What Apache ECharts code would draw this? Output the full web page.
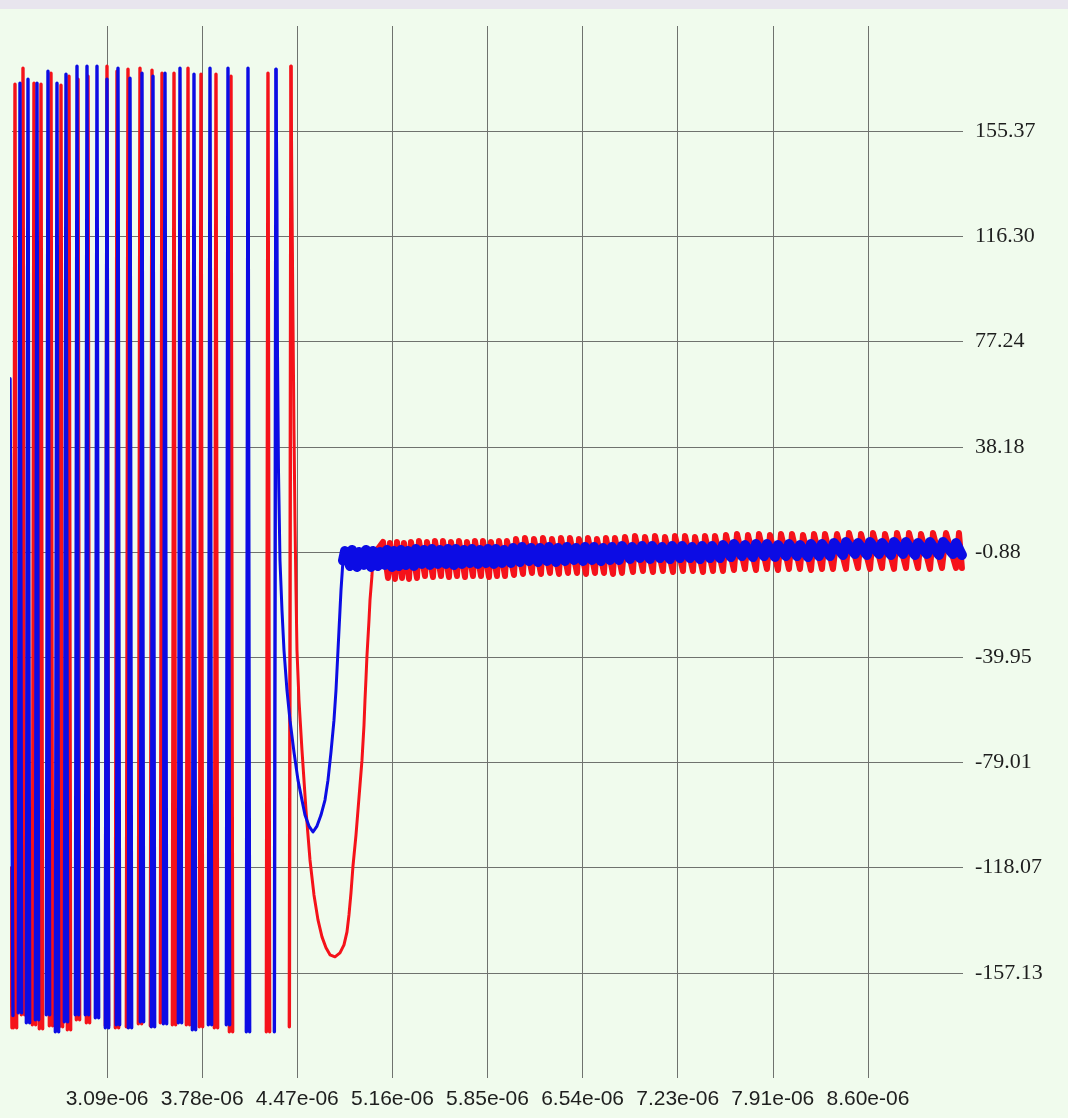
<!DOCTYPE html>
<html><head><meta charset="utf-8">
<script src="https://cdn.jsdelivr.net/npm/echarts@6/dist/echarts.min.js"></script>
<style>html,body{margin:0;padding:0;background:#f0fbed;}#chart{width:1068px;height:1118px;}</style>
</head><body><div id="chart"></div>
<script>
// ---- tick labels ----
const xTickLabels = ['3.09e-06','3.78e-06','4.47e-06','5.16e-06','5.85e-06','6.54e-06','7.23e-06','7.91e-06','8.60e-06'];
const yTickLabels = ['-157.13','-118.07','-79.01','-39.95','-0.88','38.18','77.24','116.30','155.37'];

// ---- data (x in microseconds) ----
// red series
const redStart = [[2.3867,-118.21],[2.4012,-177.52]];
const redBarX = [2.4229,2.4809,2.5605,2.6112,2.6836,2.7561,2.8140,2.8792,2.9516,3.0892,3.1616,3.2413,3.3282,3.4151,3.4876,3.5745,3.6759,3.7700,3.8786,3.9873,4.2552,4.4218];
const redBarTop = [172.79,178.72,173.16,172.79,176.87,172.42,175.76,174.65,175.76,179.46,177.61,178.35,178.72,177.98,176.87,176.87,178.72,176.50,176.50,175.76,176.87,179.46];
const redBarBottom = [-177.52,-172.70,-176.41,-177.89,-176.78,-177.15,-178.26,-174.55,-175.67,-176.78,-177.52,-177.15,-176.04,-176.78,-175.67,-176.41,-176.41,-177.15,-177.52,-179.00,-179.00,-177.15];
const redDip = [[4.4290,129.42],[4.4363,84.94],[4.4435,44.16],[4.4508,10.80],[4.4580,-15.15],[4.4652,-37.40],[4.4797,-55.93],[4.5014,-74.47],[4.5304,-96.71],[4.5594,-115.24],[4.5883,-128.22],[4.6173,-137.48],[4.6463,-143.79],[4.6753,-147.86],[4.7042,-150.46],[4.7404,-151.20],[4.7766,-149.72],[4.8056,-146.75],[4.8273,-141.93],[4.8418,-135.63],[4.8563,-127.48],[4.8708,-117.47],[4.8925,-105.98],[4.9070,-96.71],[4.9215,-87.44],[4.9360,-78.17],[4.9505,-65.20],[4.9577,-55.93],[4.9650,-47.77],[4.9722,-39.24],[4.9867,-26.27],[4.9939,-18.86],[5.0084,-9.59],[5.0157,-2.17]];
const redBandTopX = [5.0881,5.1388,5.1895,5.2402,5.2909, 5.3488,5.4067,5.4647,5.5226,5.5806,5.6385,5.6964,5.7544,5.8123,5.8703,5.9282,5.9862, 6.0514,6.1165,6.1817,6.2469,6.3121,6.3773,6.4424,6.5076,6.5728,6.6380,6.7032,6.7683, 6.8408,6.9132,6.9856,7.0580,7.1305,7.2029,7.2753,7.3477,7.4202,7.4926, 7.5722,7.6519,7.7316,7.8112,7.8909,7.9706,8.0502,8.1299,8.2096,8.2892, 8.3761,8.4630,8.5500,8.6369,8.7238,8.8107,8.8976,8.9845,9.0714,9.1656,9.2597];
const redBandTop = [2.83,2.46,2.83,2.46,2.83, 3.20,2.83,3.20,3.20,2.83,3.20,2.83,3.20,3.20,2.83,3.20,3.20, 3.94,4.31,3.94,4.31,3.94,4.31,4.31,3.94,4.31,3.94,4.31,4.31, 4.68,5.05,4.68,5.05,4.68,5.05,5.05,4.68,5.05,5.05, 5.42,5.79,5.42,5.79,5.42,5.79,5.79,5.42,5.79,5.79, 5.79,6.16,5.79,6.16,5.79,6.16,6.16,5.79,6.16,6.16,6.16];
const redBandBotX = [5.1243,5.1750,5.2257,5.2764,5.3343, 5.3923,5.4502,5.5082,5.5661,5.6241,5.6820,5.7399,5.7979,5.8558,5.9138,5.9717,6.0369, 6.1021,6.1672,6.2324,6.2976,6.3628,6.4280,6.4931,6.5583,6.6235,6.6887,6.7539,6.8190, 6.8987,6.9711,7.0435,7.1159,7.1884,7.2608,7.3332,7.4056,7.4781,7.5505, 7.6301,7.7098,7.7895,7.8691,7.9488,8.0285,8.1081,8.1878,8.2675,8.3471, 8.4413,8.5282,8.6152,8.7021,8.7890,8.8759,8.9628,9.0497,9.1366,9.2380,9.2810];
const redBandBot = [-10.52,-10.89,-10.52,-10.89,-10.52, -9.78,-10.15,-9.78,-10.15,-9.78,-10.15,-9.78,-9.78,-10.15,-9.78,-9.78,-9.41, -9.04,-8.67,-9.04,-8.67,-9.04,-8.67,-8.67,-9.04,-8.67,-8.67,-9.04,-8.67, -8.30,-7.93,-8.30,-7.93,-8.30,-7.93,-7.93,-8.30,-7.93,-7.93, -7.55,-7.18,-7.55,-7.18,-7.55,-7.18,-7.18,-7.55,-7.18,-7.18, -7.18,-6.81,-7.18,-6.81,-7.18,-6.81,-6.81,-7.18,-6.81,-6.81,-6.81];

// blue series
const blueStart = [[2.3867,63.43],[2.4084,-173.00]];
const blueBarX = [2.4591,2.5171,2.5823,2.6619,2.7271,2.7923,2.8720,2.9444,3.0168,3.0892,3.1689,3.2558,3.3427,3.4224,3.5093,3.6179,3.7193,3.8352,3.9655,4.1104,4.3132];
const blueBarTop = [173.16,174.65,173.16,177.61,173.16,176.50,179.46,179.46,179.46,174.65,178.72,175.02,176.87,175.76,176.87,178.72,176.50,178.72,178.72,178.72,178.35];
const blueBarBottom = [-171.96,-175.67,-174.55,-172.70,-179.00,-175.30,-172.70,-172.70,-173.81,-177.52,-176.41,-177.52,-175.30,-177.15,-176.04,-175.67,-178.26,-176.41,-176.41,-179.00,-179.00];
const blueDip = [[4.3204,129.42],[4.3240,73.81],[4.3313,29.33],[4.3421,-4.03],[4.3566,-22.57],[4.3711,-37.40],[4.3928,-52.22],[4.4145,-63.34],[4.4435,-75.21],[4.4725,-85.59],[4.5014,-93.00],[4.5232,-98.56],[4.5521,-102.64],[4.5811,-104.86],[4.6101,-102.64],[4.6390,-98.56],[4.6680,-93.00],[4.6897,-85.59],[4.7115,-75.21],[4.7332,-63.34],[4.7477,-52.22],[4.7622,-37.40],[4.7766,-22.57],[4.7839,-15.15],[4.7984,-4.03]];
const blueBandTopX = [4.8129,4.8636,4.9143,4.9650,5.0157,5.0664,5.1171,5.1678,5.2185,5.2692, 5.3271,5.3850,5.4430,5.5009,5.5589,5.6168,5.6747,5.7327,5.7906,5.8486,5.9065,5.9645, 6.0297,6.0948,6.1600,6.2252,6.2904,6.3556,6.4207,6.4859,6.5511,6.6163,6.6815,6.7466, 6.8191,6.8915,6.9639,7.0363,7.1088,7.1812,7.2536,7.3260,7.3985,7.4709, 7.5505,7.6302,7.7099,7.7895,7.8692,7.9489,8.0285,8.1082,8.1879,8.2675, 8.3544,8.4413,8.5283,8.6152,8.7021,8.7890,8.8759,8.9628,9.0497,9.1439,9.2380];
const blueBandTop = [-0.52,-0.15,-0.89,-0.15,-0.52,-0.89,-0.15,-0.52,-0.15,-0.52, 0.23,-0.15,0.23,-0.15,0.23,0.23,-0.15,0.23,-0.15,0.23,0.23,-0.15, 0.60,0.97,0.60,0.60,0.97,0.60,0.97,0.60,0.97,0.97,0.60,0.97, 1.34,0.97,1.34,1.34,0.97,1.34,1.34,0.97,1.34,1.34, 1.71,2.08,1.71,2.08,2.08,1.71,2.08,1.71,2.08,2.08, 2.45,2.82,2.45,2.82,2.45,2.82,2.82,2.45,2.82,2.82,2.45];
const blueBandBotX = [4.8491,4.8998,4.9505,5.0012,5.0519,5.1026,5.1533,5.2040,5.2547,5.3126, 5.3706,5.4285,5.4865,5.5444,5.6024,5.6603,5.7182,5.7762,5.8341,5.8921,5.9500,6.0152, 6.0804,6.1455,6.2107,6.2759,6.3411,6.4063,6.4714,6.5366,6.6018,6.6670,6.7322,6.7973, 6.8770,6.9494,7.0218,7.0942,7.1667,7.2391,7.3115,7.3839,7.4564,7.5288, 7.6084,7.6881,7.7678,7.8474,7.9271,8.0068,8.0864,8.1661,8.2458,8.3254, 8.4196,8.5065,8.5935,8.6804,8.7673,8.8542,8.9411,9.0280,9.1149,9.2163,9.2810];
const blueBandBot = [-6.06,-6.43,-5.69,-6.43,-6.06,-5.69,-6.43,-6.06,-5.69,-6.06, -5.32,-5.69,-5.32,-5.32,-5.69,-5.32,-4.95,-5.32,-4.95,-5.32,-4.95,-4.95, -4.58,-4.21,-4.58,-4.21,-4.58,-4.21,-3.84,-4.21,-3.84,-4.21,-3.84,-3.84, -3.47,-3.10,-3.47,-3.10,-3.47,-3.10,-3.10,-3.47,-3.10,-3.10, -2.73,-2.36,-2.73,-2.36,-2.73,-2.36,-2.36,-2.73,-2.36,-2.36, -1.99,-1.61,-1.99,-1.61,-1.99,-1.61,-1.99,-1.61,-1.99,-1.61,-1.99];

// ---- build ----
const BAR_HALF = 0.012; // half width of one up/down swing, microseconds
function buildBars(start, barX, barTop, barBot) {
  const d = start.map(p => p.slice());
  d.push([start[start.length - 1][0], null]);
  const n = barX.length;
  for (let i = 0; i < n; i++) {
    d.push([barX[i] - BAR_HALF, barBot[i]]);
    d.push([barX[i], barTop[i]]);
    if (i < n - 1) {
      d.push([barX[i] + BAR_HALF, barBot[i]]);
      d.push([barX[i] + BAR_HALF, null]);
    }
  }
  return d;
}
function buildDip(barX, barTop, dip) {
  const n = barX.length;
  return [[barX[n - 1], barTop[n - 1]]].concat(dip.map(p => p.slice()));
}
function buildBand(dip, tX, t, bX, b) {
  const d = [dip[dip.length - 1].slice()];
  for (let i = 0; i < tX.length; i++) { d.push([tX[i], t[i]]); d.push([bX[i], b[i]]); }
  return d;
}

const xFirst = parseFloat(xTickLabels[0]) * 1e6, xLast = parseFloat(xTickLabels[xTickLabels.length - 1]) * 1e6;
const xStep = (xLast - xFirst) / (xTickLabels.length - 1);
const xMin = xFirst - xStep, xMax = xLast + xStep;
const yFirst = parseFloat(yTickLabels[0]), yLast = parseFloat(yTickLabels[yTickLabels.length - 1]);
const yStep = (yLast - yFirst) / (yTickLabels.length - 1);
const yMin = yFirst - yStep, yMax = yLast + yStep;

const RED = '#f5121a', BLUE = '#0c0ce4';
function lineSeries(data, color, width, z) {
  return {
    type: 'line', data: data, showSymbol: false, connectNulls: false, sampling: null, silent: true,
    lineStyle: {color: color, width: width, cap: 'round', join: 'round'}, z: z
  };
}

const gridColor = '#6f726e';
const chart = echarts.init(document.getElementById('chart'), null, {renderer: 'canvas'});
chart.setOption({
  backgroundColor: '#f0fbed',
  animation: false,
  graphic: [{type: 'rect', left: 0, top: 0, shape: {width: 1068, height: 9}, style: {fill: '#e8e5ee'}, silent: true}],
  grid: {left: 12, right: 105, top: 26, bottom: 40, containLabel: false},
  xAxis: {
    type: 'value', min: xMin, max: xMax, interval: xStep,
    axisLine: {show: false}, axisTick: {show: false},
    splitLine: {show: true, showMinLine: false, showMaxLine: false, lineStyle: {color: gridColor, width: 1}},
    axisLabel: {
      show: true, margin: 11, interval: 0, hideOverlap: false,
      fontFamily: 'Liberation Sans', fontSize: 21, color: '#1e1e1e',
      formatter: v => { const i = Math.round((v - xMin) / xStep) - 1; return (i >= 0 && i < xTickLabels.length) ? xTickLabels[i] : ''; }
    }
  },
  yAxis: {
    type: 'value', position: 'right', min: yMin, max: yMax, interval: yStep,
    axisLine: {show: false}, axisTick: {show: false},
    splitLine: {show: true, showMinLine: false, showMaxLine: false, lineStyle: {color: gridColor, width: 1}},
    axisLabel: {
      show: true, margin: 12, hideOverlap: false,
      fontFamily: 'Liberation Serif', fontSize: 22, color: '#1e1e1e',
      formatter: v => { const i = Math.round((v - yMin) / yStep) - 1; return (i >= 0 && i < yTickLabels.length) ? yTickLabels[i] : ''; }
    }
  },
  series: [
    lineSeries(buildBars(redStart, redBarX, redBarTop, redBarBottom), RED, 3.4, 2),
    lineSeries(buildDip(redBarX, redBarTop, redDip), RED, 3, 2),
    lineSeries(buildBand(redDip, redBandTopX, redBandTop, redBandBotX, redBandBot), RED, 6, 2),
    lineSeries(buildBars(blueStart, blueBarX, blueBarTop, blueBarBottom), BLUE, 3.4, 3),
    lineSeries(buildDip(blueBarX, blueBarTop, blueDip), BLUE, 3, 3),
    lineSeries(buildBand(blueDip, blueBandTopX, blueBandTop, blueBandBotX, blueBandBot), BLUE, 10, 3)
  ]
});
</script></body></html>
